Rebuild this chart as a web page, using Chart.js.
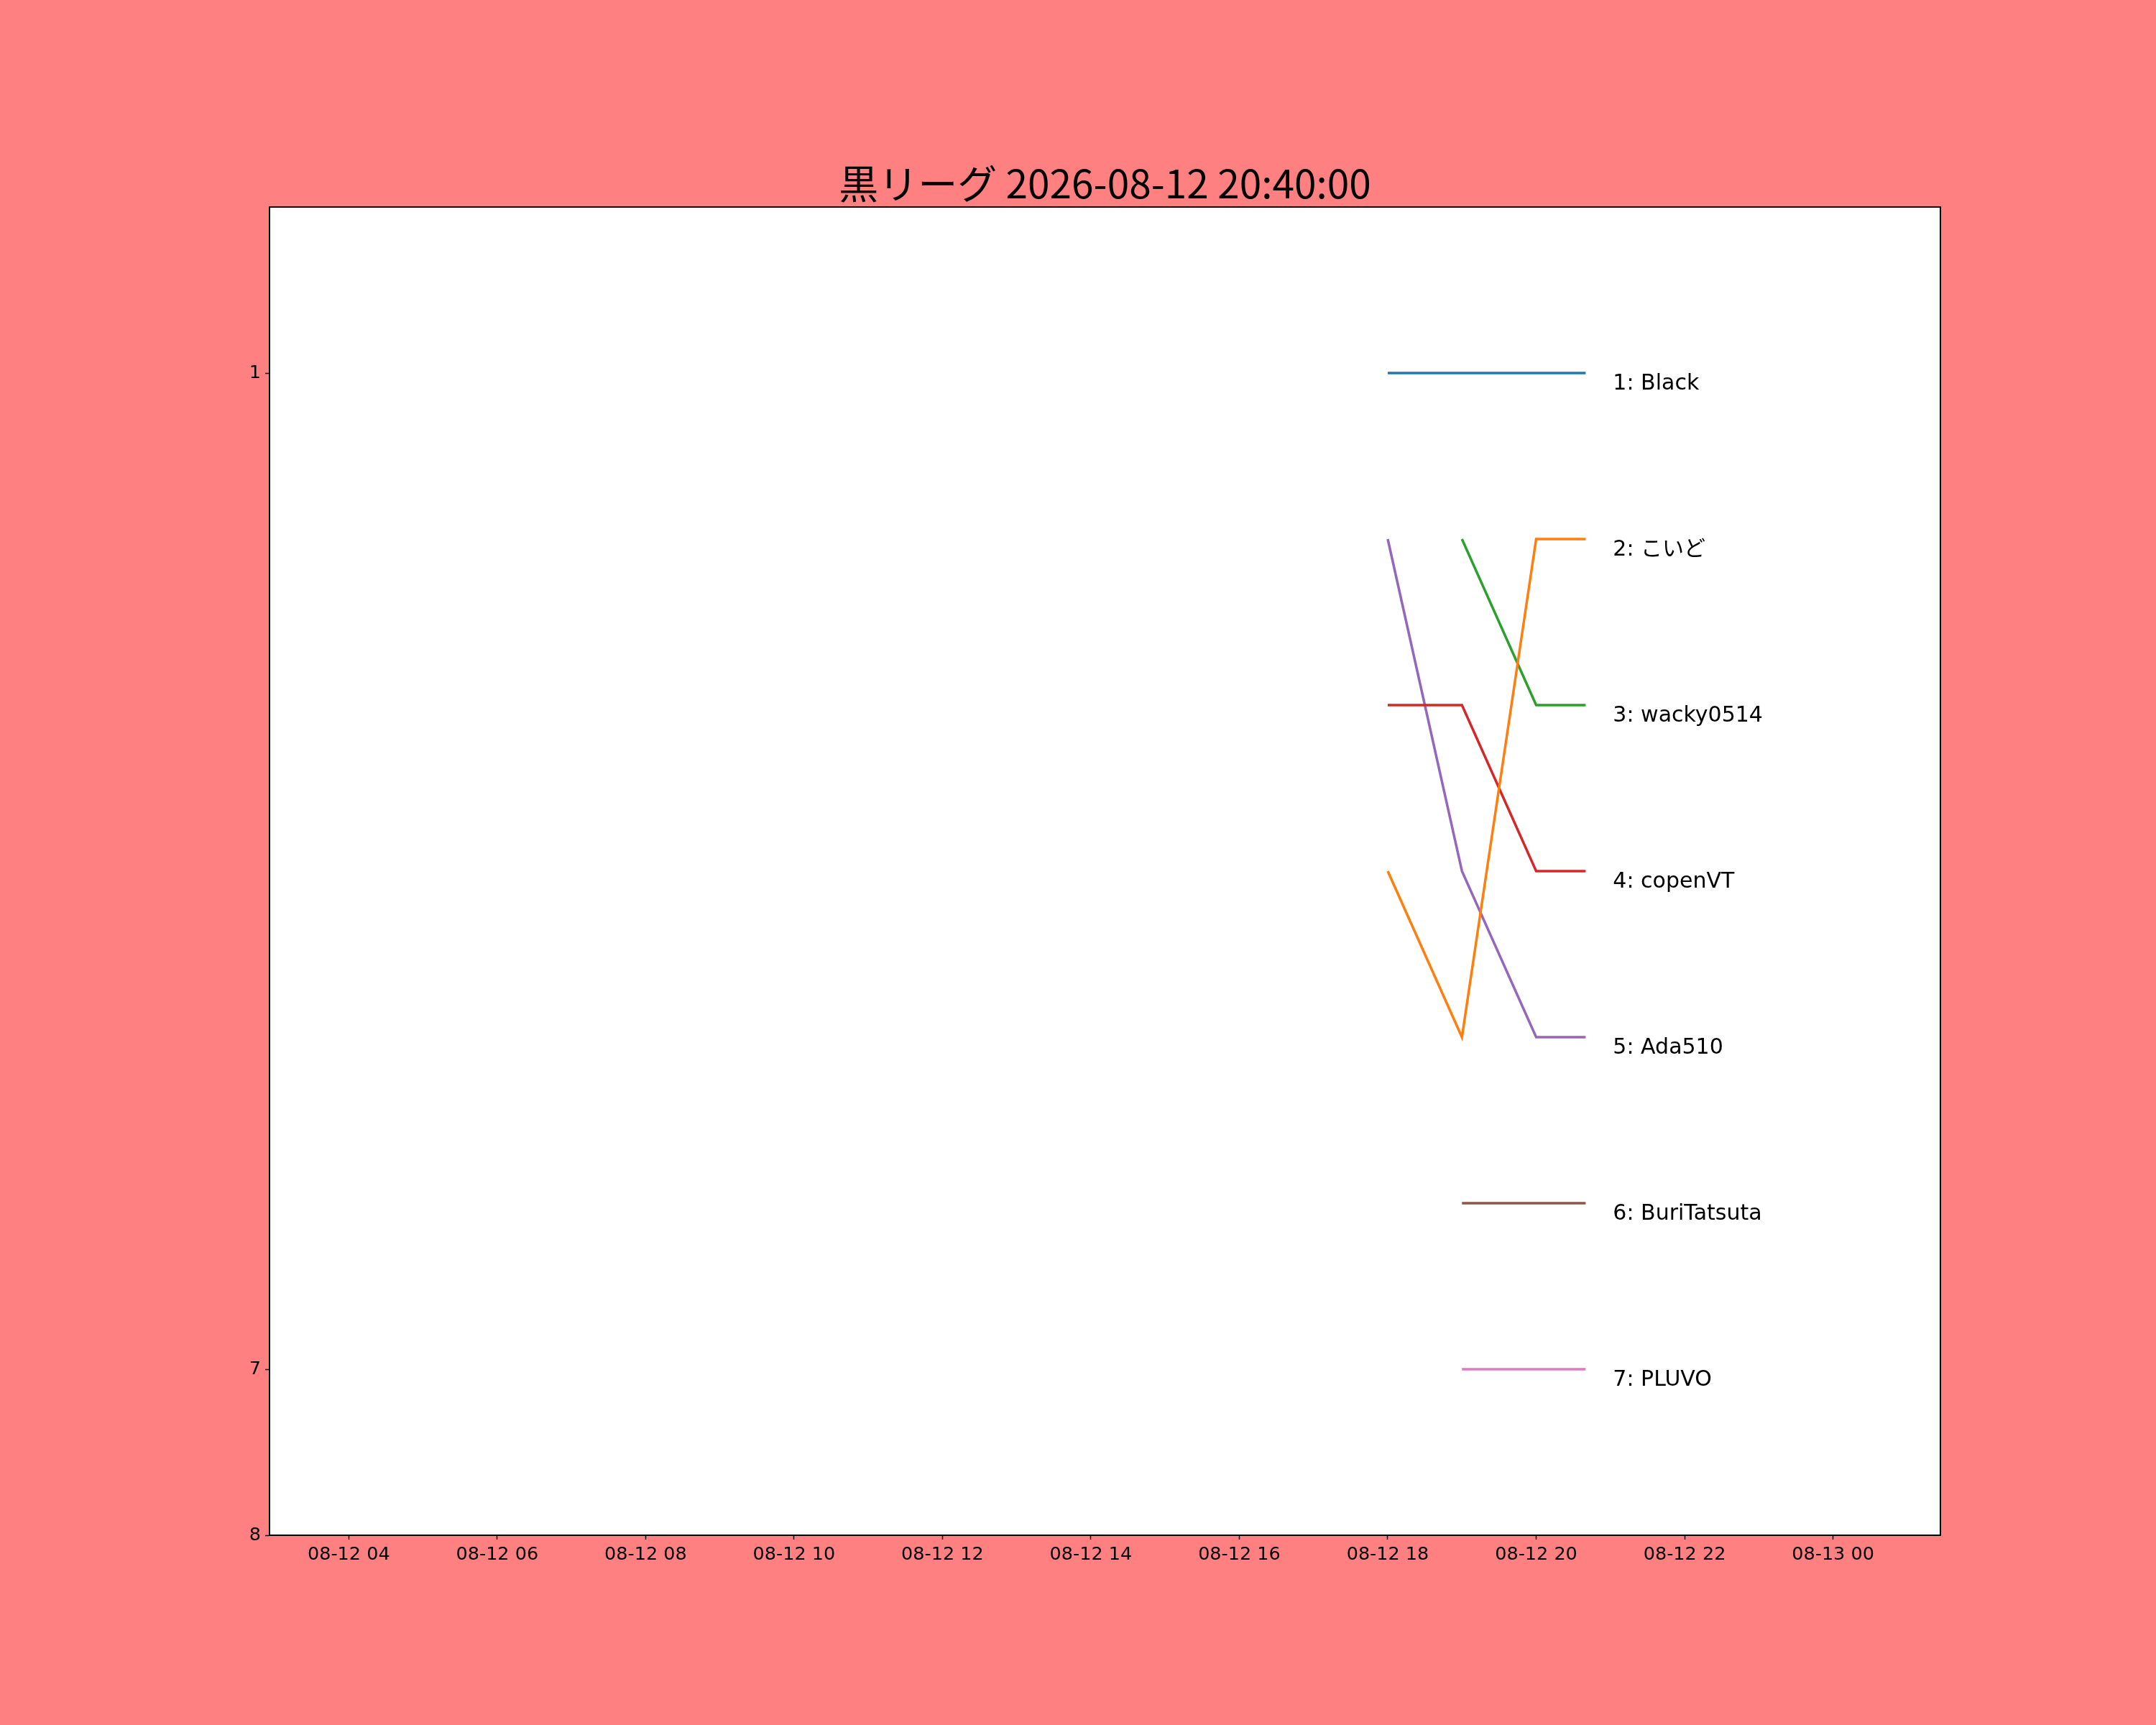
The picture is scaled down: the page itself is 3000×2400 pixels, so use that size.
<!DOCTYPE html>
<html>
<head>
<meta charset="utf-8">
<script src="https://cdn.jsdelivr.net/npm/chart.js@4.4.1/dist/chart.umd.min.js"></script>
<style>
  body { margin: 0; background: #ff8080; }
  canvas { display: block; }
</style>
</head>
<body>
<canvas id="graphRang" width="3000" height="2400"></canvas>
<script>
// données
const titre = "黒リーグ 2026-08-12 20:40:00";
const heures = ["2026-08-12 18:00", "2026-08-12 19:00", "2026-08-12 20:00", "2026-08-12 20:40"];
const joueurs = ["1: Black", "2: こいど", "3: wacky0514", "4: copenVT", "5: Ada510", "6: BuriTatsuta", "7: PLUVO"];
const rangBlack = [1, 1, 1, 1];
const rangKoido = [4, 5, 2, 2];
const rangWacky = [null, 2, 3, 3];
const rangCopen = [3, 3, 4, 4];
const rangAda = [2, 4, 5, 5];
const rangBuri = [null, 6, 6, 6];
const rangPluvo = [null, 7, 7, 7];
const couleurs = ["#1f77b4", "#ff7f0e", "#2ca02c", "#d62728", "#9467bd", "#8c564b", "#e377c2"];
const etiquettesX = ["08-12 04", "08-12 06", "08-12 08", "08-12 10", "08-12 12", "08-12 14", "08-12 16", "08-12 18", "08-12 20", "08-12 22", "08-13 00"];
const ticksY = [1, 7, 8];

// heures depuis le 12/08 00:00
function versHeures(jour, h, m) {
    return (jour - 12) * 24 + h + m / 60;
}
function heureDepuisTexte(t) {
    const p = t.split(/[- :]/);
    return versHeures(+p[2], +p[3], +p[4]);
}
function heureDepuisEtiquette(e) {
    const p = e.split(/[- ]/);
    return versHeures(+p[1], +p[2], 0);
}

const rangs = [rangBlack, rangKoido, rangWacky, rangCopen, rangAda, rangBuri, rangPluvo];
const xs = heures.map(heureDepuisTexte);

const datasets = rangs.map((r, i) => ({
    label: joueurs[i],
    data: xs.map((x, j) => ({ x: x, y: r[j] })),
    borderColor: couleurs[i],
    backgroundColor: couleurs[i],
    borderWidth: 3.5,
    pointRadius: 0,
    tension: 0,
    fill: false
}));

// fond rose + zone blanche + cadre
const fondPlugin = {
    id: "fond",
    beforeDraw(chart) {
        const ctx = chart.ctx;
        const a = chart.chartArea;
        ctx.save();
        ctx.fillStyle = "#ff8080";
        ctx.fillRect(0, 0, chart.width, chart.height);
        ctx.fillStyle = "#ffffff";
        ctx.fillRect(a.left, a.top, a.right - a.left, a.bottom - a.top);
        ctx.restore();
    },
    afterDraw(chart) {
        const ctx = chart.ctx;
        const a = chart.chartArea;
        ctx.save();
        ctx.strokeStyle = "#000";
        ctx.lineWidth = 2;
        ctx.strokeRect(a.left, a.top, a.right - a.left, a.bottom - a.top);
        ctx.restore();
    }
};

// noms à droite du dernier point
const nomsPlugin = {
    id: "noms",
    afterDatasetsDraw(chart) {
        const ctx = chart.ctx;
        ctx.save();
        ctx.font = '30px "DejaVu Sans", "Noto Sans CJK JP"';
        ctx.fillStyle = "#000";
        ctx.textBaseline = "alphabetic";
        ctx.textAlign = "left";
        chart.data.datasets.forEach((ds, i) => {
            const pts = chart.getDatasetMeta(i).data;
            const dernier = pts[pts.length - 1];
            ctx.fillText(ds.label, dernier.x + 38, dernier.y + 23);
        });
        ctx.restore();
    }
};

const chart = new Chart(document.getElementById("graphRang").getContext("2d"), {
    type: "line",
    data: { datasets: datasets },
    plugins: [fondPlugin, nomsPlugin],
    options: {
        responsive: false,
        animation: false,
        events: [],
        layout: { padding: { left: 0, right: 300, top: 0, bottom: 0 } },
        plugins: {
            legend: { display: false },
            tooltip: { enabled: false },
            title: {
                display: true,
                text: titre,
                fullSize: false,
                color: "#000",
                font: { family: '"Noto Sans CJK JP"', size: 55, weight: "normal", lineHeight: 1.2 },
                padding: { top: 222, bottom: 0 }
            }
        },
        scales: {
            x: {
                type: "linear",
                min: 2.932,
                max: 25.447,
                afterFit: s => { s.height = 264; },
                afterBuildTicks: s => { s.ticks = etiquettesX.map(e => ({ value: heureDepuisEtiquette(e) })); },
                border: { display: true, color: "#000", width: 2 },
                grid: { drawOnChartArea: false, drawTicks: true, tickLength: 6, color: "#000", tickWidth: 1.5 },
                ticks: {
                    color: "#000",
                    padding: 6,
                    maxRotation: 0,
                    autoSkip: false,
                    font: { family: '"DejaVu Sans"', size: 25.5 },
                    callback: (v, i) => etiquettesX[i]
                }
            },
            y: {
                type: "linear",
                reverse: true,
                min: 0,
                max: 8,
                afterFit: s => { s.width = 375; },
                afterBuildTicks: s => { s.ticks = ticksY.map(v => ({ value: v })); },
                border: { display: true, color: "#000", width: 2 },
                grid: { drawOnChartArea: false, drawTicks: true, tickLength: 6, color: "#000", tickWidth: 1.5 },
                ticks: {
                    color: "#000",
                    padding: 6,
                    autoSkip: false,
                    font: { family: '"DejaVu Sans"', size: 25.5 },
                    callback: v => String(v)
                }
            }
        }
    }
});
</script>
</body>
</html>
